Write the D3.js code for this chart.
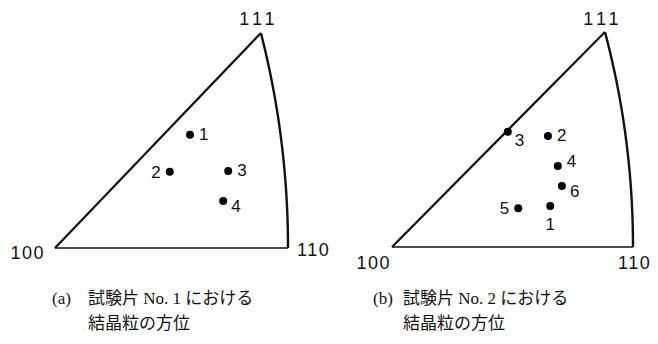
<!DOCTYPE html>
<html>
<head>
<meta charset="utf-8">
<script src="https://cdn.jsdelivr.net/npm/d3@7"></script>
<style>
  html, body { margin: 0; padding: 0; background: #fff; }
  svg { display: block; }
  .corner { font-family: "Liberation Sans", "DejaVu Sans", sans-serif; font-size: 18px; fill: #111; }
  .grain { font-family: "Liberation Sans", "DejaVu Sans", sans-serif; font-size: 17px; fill: #111; }
  .caption { font-family: "Liberation Serif", "Noto Sans CJK JP", serif; font-size: 17px; fill: #111; }
</style>
</head>
<body>
<script>
// Corner poles of the standard stereographic triangle
const poleNames = ["100", "110", "111"];
// Stereographic coordinates of the poles (projection of <100>, <110>, <111>)
const poleU = [0, Math.SQRT2 - 1, (Math.sqrt(3) - 1) / 2];
const poleV = [0, 0, (Math.sqrt(3) - 1) / 2];

// Specimen No. 1 grain orientations (stereographic coordinates)
const grainIdsA = ["1", "2", "3", "4"];
const grainUA = [0.240, 0.204, 0.308, 0.299];
const grainVA = [0.193, 0.130, 0.131, 0.080];

// Specimen No. 2 grain orientations
const grainIdsB = ["3", "2", "4", "6", "5", "1"];
const grainUB = [0.199, 0.268, 0.285, 0.292, 0.217, 0.272];
const grainVB = [0.196, 0.189, 0.138, 0.104, 0.066, 0.070];

// Caption text
const captionHeads = ["(a)", "(b)"];
const captionLine1 = ["試験片 No. 1 における", "試験片 No. 2 における"];
const captionLine2 = ["結晶粒の方位", "結晶粒の方位"];

const W = 658, H = 344;
const svg = d3.select("body").append("svg").attr("width", W).attr("height", H);

// Layout of each panel: plot frame and label placements
const panels = [
  {
    ids: grainIdsA, u: grainUA, v: grainVA,
    xRange: [55, 288], yRange: [248, 33],
    side: ["right", "left", "right", "rightLow"],
    corner: [
      { anchor: "end", dx: -10, dy: 11 },
      { anchor: "start", dx: 9, dy: 8 },
      { anchor: "middle", dx: -2, dy: -8 }
    ],
    cap: { x: 52, textX: 88, y: 304, y2: 329 }
  },
  {
    ids: grainIdsB, u: grainUB, v: grainVB,
    xRange: [392, 633], yRange: [247, 32],
    side: ["rightLow2", "right", "rightHigh", "rightLow", "left", "below"],
    corner: [
      { anchor: "end", dx: -1, dy: 22 },
      { anchor: "start", dx: -15, dy: 22 },
      { anchor: "middle", dx: -2, dy: -7 }
    ],
    cap: { x: 373, textX: 403, y: 304, y2: 329 }
  }
];

const offsets = {
  right:     { dx: 9,  dy: 5,  anchor: "start" },
  rightLow:  { dx: 8,  dy: 11, anchor: "start" },
  rightLow2: { dx: 7,  dy: 14, anchor: "start" },
  rightHigh: { dx: 9,  dy: 1,  anchor: "start" },
  left:      { dx: -9, dy: 6,  anchor: "end" },
  below:     { dx: 0,  dy: 24, anchor: "middle" }
};

panels.forEach((p, pi) => {
  const x = d3.scaleLinear().domain([0, poleU[1]]).range(p.xRange);
  const y = d3.scaleLinear().domain([0, poleV[2]]).range(p.yRange);
  const g = svg.append("g");

  // Boundary: [100]-[110] edge, [110]-[111] great-circle arc, [111]-[100] edge
  const arcEnd = Math.atan2(poleV[2], 1 + poleU[2]);
  const arcPts = d3.range(0, 41).map(i => {
    const t = arcEnd * i / 40;
    return [-1 + Math.SQRT2 * Math.cos(t), Math.SQRT2 * Math.sin(t)];
  });
  const line = d3.line().x(d => x(d[0])).y(d => y(d[1]));

  g.append("path")
    .attr("d", line([[poleU[0], poleV[0]], [poleU[1], poleV[1]]]))
    .attr("fill", "none").attr("stroke", "#111").attr("stroke-width", 1.6);
  g.append("path")
    .attr("d", line(arcPts))
    .attr("fill", "none").attr("stroke", "#111").attr("stroke-width", 2.4);
  g.append("path")
    .attr("d", line([[poleU[2], poleV[2]], [poleU[0], poleV[0]]]))
    .attr("fill", "none").attr("stroke", "#111").attr("stroke-width", 2.2);

  // Pole labels
  poleNames.forEach((name, k) => {
    const c = p.corner[k];
    g.append("text").attr("class", "corner")
      .attr("x", x(poleU[k]) + c.dx).attr("y", y(poleV[k]) + c.dy)
      .attr("text-anchor", c.anchor)
      .attr("letter-spacing", k === 2 ? 4 : 1.5)
      .text(name);
  });

  // Grain orientation points
  p.ids.forEach((id, k) => {
    const cx = x(p.u[k]), cy = y(p.v[k]);
    g.append("circle").attr("cx", cx).attr("cy", cy).attr("r", 4).attr("fill", "#000");
    const o = offsets[p.side[k]];
    g.append("text").attr("class", "grain")
      .attr("x", cx + o.dx).attr("y", cy + o.dy)
      .attr("text-anchor", o.anchor)
      .text(id);
  });

  // Caption
  g.append("text").attr("class", "caption")
    .attr("x", p.cap.x).attr("y", p.cap.y).text(captionHeads[pi]);
  g.append("text").attr("class", "caption")
    .attr("x", p.cap.textX).attr("y", p.cap.y).text(captionLine1[pi]);
  g.append("text").attr("class", "caption")
    .attr("x", p.cap.textX).attr("y", p.cap.y2).text(captionLine2[pi]);
});
</script>
</body>
</html>
